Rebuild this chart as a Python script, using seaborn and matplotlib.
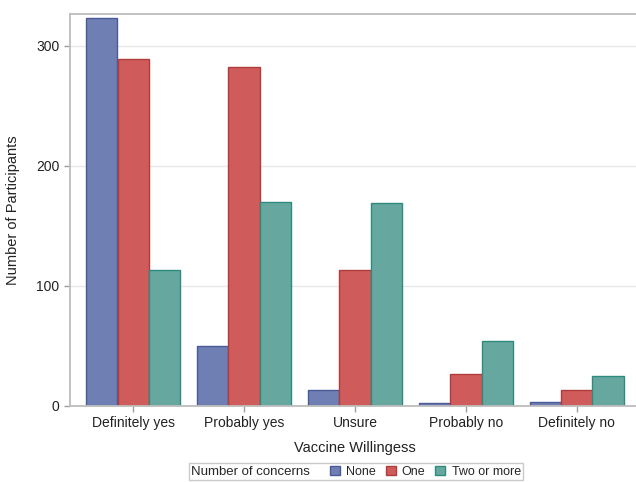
import matplotlib
matplotlib.use("Agg")
import matplotlib.pyplot as plt
import seaborn as sns
import pandas as pd
from matplotlib.patches import Patch
from matplotlib.offsetbox import HPacker

categories = ["Definitely yes", "Probably yes", "Unsure", "Probably no", "Definitely no"]
groups = ["None", "One", "Two or more"]
none_vals = [323, 50, 13, 2, 3]
one_vals = [289, 282, 113, 26, 13]
two_vals = [113, 170, 169, 54, 25]

fill_colors = ["#6F7EB3", "#D05B5B", "#66A8A0"]
edge_colors = ["#4A5A99", "#B03C3C", "#2E8A7E"]

rows = []
for g, vals in zip(groups, [none_vals, one_vals, two_vals]):
    for c, v in zip(categories, vals):
        rows.append({"Vaccine Willingess": c, "Number of concerns": g, "Count": v})
df = pd.DataFrame(rows)

sns.set_style("white")
plt.rcParams["font.family"] = ["Liberation Sans", "DejaVu Sans"]

fig = plt.figure(figsize=(6.36, 4.82), dpi=100)
ax = fig.add_axes([70 / 636, 1 - 405.5 / 482, 570 / 636, (405.5 - 14) / 482])

sns.barplot(data=df, x="Vaccine Willingess", y="Count", hue="Number of concerns",
            order=categories, hue_order=groups, palette=fill_colors,
            width=0.85, gap=0, ax=ax, legend=False, saturation=1)

for cont, ec in zip(ax.containers, edge_colors):
    for bar in cont:
        bar.set_edgecolor(ec)
        bar.set_linewidth(1.0)

ax.set_xlim(-0.57, 4.57)
ax.set_ylim(0, 326.5)
ax.set_yticks([0, 100, 200, 300])
ax.yaxis.grid(True, color="#E8E8E8", linewidth=1)
ax.set_axisbelow(True)
for s in ["left", "top", "bottom", "right"]:
    ax.spines[s].set_color("#BDBDBD")
    ax.spines[s].set_linewidth(1.3)
ax.tick_params(axis="both", which="both", length=4, color="#9E9E9E", labelsize=10,
               labelcolor="#222222", bottom=True, left=True, width=1)
ax.set_xlabel("Vaccine Willingess", fontsize=10.5, color="#222222", labelpad=8)
ax.set_ylabel("Number of Participants", fontsize=10.5, color="#222222", labelpad=12)

handles = [Patch(facecolor=f, edgecolor=e, linewidth=1) for f, e in zip(fill_colors, edge_colors)]
leg = fig.legend(handles, groups, title="Number of concerns", ncol=3,
                 loc="upper center", bbox_to_anchor=(356 / 636, 1 - 463 / 482),
                 fontsize=9, title_fontsize=9.5, frameon=True, fancybox=False,
                 edgecolor="#BDBDBD", handlelength=0.8, handleheight=0.8,
                 handletextpad=0.5, columnspacing=0.8, borderpad=0.2,
                 borderaxespad=0)
leg.get_frame().set_linewidth(1)
try:
    leg._legend_box.__class__ = HPacker
    leg._legend_box.sep = 14
except Exception:
    pass

fig.savefig("out.png", dpi=100)
